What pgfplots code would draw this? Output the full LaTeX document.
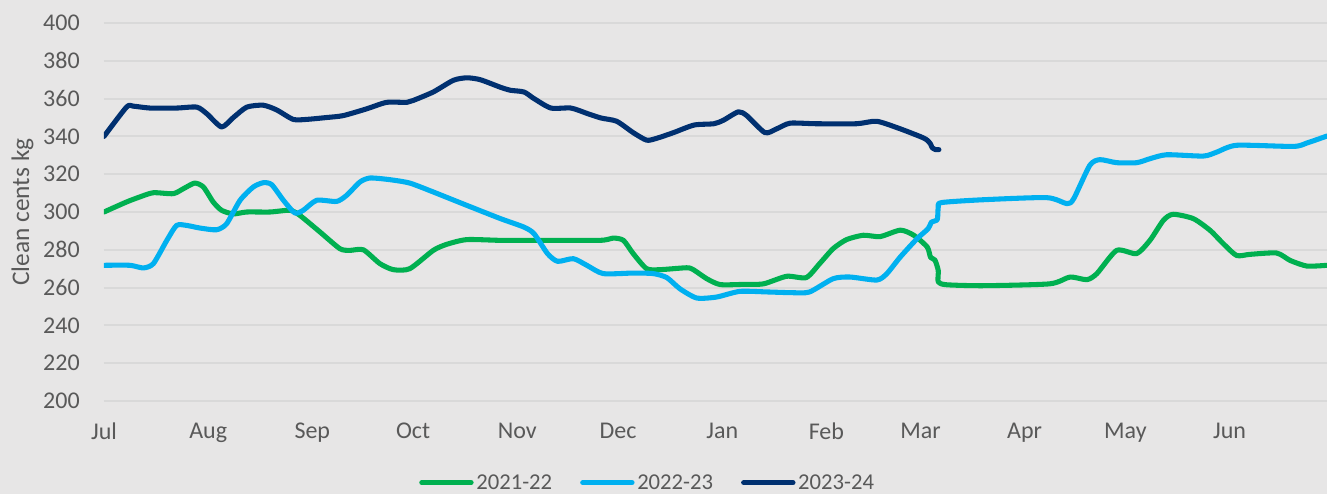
\documentclass[border=0pt]{standalone}
\usepackage{fontspec}
\setmainfont{Carlito}
\usepackage{pgfplots}
\usepackage{pgfplotstable}
\pgfplotsset{compat=1.18}
\definecolor{bgcol}{HTML}{E7E6E6}
\definecolor{gridcol}{HTML}{D9D9D9}
\definecolor{txtcol}{HTML}{595959}
\definecolor{cA}{HTML}{00B050}
\definecolor{cB}{HTML}{00B0F0}
\definecolor{cC}{HTML}{003070}

\pgfplotstableread{
d v
0 300
6.7 305.3
10.7 308
14.7 310.2
20.6 309.7
23.6 312.3
27 315.3
29.6 313.2
32.5 305.3
35 300.9
38.5 299
42.5 300
49.4 300
55.4 300.9
58.3 298.2
64.3 289.4
70.2 280.6
73.2 279.7
77.2 280
82.1 272.7
86.1 269.5
91 270
98 279.7
102 282.9
108 285.4
118 285
128 285
147.6 285
151.6 286.2
154.6 285
157.5 278
161.5 270
165.5 269.5
173.4 270.5
175.4 269.5
179.4 264.7
183.4 261.6
190.3 261.7
196.3 262
203.2 266
209 265.3
213 272.7
217 280.6
221 285.4
226 287.7
231 287
237 290.4
241 287.7
245 281.5
246 276
247.3 274.6
248.3 269
248.3 263
250.8 261.5
261.8 261
281.5 262
287.5 265.6
292.5 264.2
295.5 267.4
301.4 279.7
307.3 278
311.3 285
315.3 295.6
318.2 298.8
324.2 296.5
329.2 290.3
333.1 283.3
337.1 277
341.1 277.6
349 278.3
353 274.4
358 271.4
364 271.8
}\tblA

\pgfplotstableread{
d v
0 271.8
7.7 271.8
11.7 270.4
14.7 272.7
18.7 285
21.6 292.9
24.6 292.9
28.6 291.5
33.5 290.6
36.5 293.8
40.5 306.2
44.4 313.2
47.4 315.5
49.9 314.5
53.4 306.2
56.8 299.5
59.3 300.9
63.3 306.2
69.2 305.6
72.2 308.8
76.2 315.9
79.2 318
85.1 317.1
91 315.3
98 310.6
108 303.5
118 296.5
125 292
128 288.5
132 278
135 273.9
139.7 275.3
143.7 271.8
148.6 267.4
157.5 267.7
163.5 267.4
167.5 265.3
171.4 259.4
176.4 254.5
182.3 255
189.2 258
197.4 257.7
205 257.3
210 257.7
217 264.7
222 265.6
230 264
233 267.4
237 276.2
242 285.9
245.3 291.2
246.3 294.7
248 296
248.3 302.6
249.3 305
261.8 306.5
280.6 307.6
286.6 304.4
288.6 307
293.4 324.7
296.4 327.7
301.4 326.1
307.4 326.1
311.3 328.2
316.3 330.3
327.2 329.6
331.2 331.7
337.1 335.3
354 334.7
358 336.5
364 340.2
}\tblB

\pgfplotstableread{
d v
0 340
6.7 355.5
8.7 356
13.7 355
21.6 355
27.6 355.5
30.6 352
35 345
38.5 350
42.5 355.5
47.4 356.5
51.4 354
56.3 349
60.3 349
66.3 350
71.2 351
78.2 354.6
84.1 358
90.1 358
92 359
98 363.5
104 369.7
108 371
112 370
118 366
121 364.4
125 363.5
128 360
133 355
139 355
144 352
148 349.7
152.6 348
157.5 342
161.5 338
164.5 339
169.5 342
175.6 346
181.5 346.7
184.3 348.5
188.8 353
191.3 351
196.7 342
200.2 344
204.2 347
212 346.7
224 346.7
230 348
237 344
243.5 339.5
245 338
246 336
246.5 334
247.5 333
248.5 333
}\tblC

\begin{document}
\begin{tikzpicture}
\fill[bgcol] (0,0) rectangle (995.25pt,370.5pt);
\begin{axis}[
  at={(78pt,69.75pt)}, anchor=south west,
  scale only axis, width=917.25pt, height=283.5pt,
  xmin=0, xmax=364, ymin=200, ymax=400,
  axis line style={draw=none},
  major tick length=0pt,
  ytick={200,220,...,400},
  xtick={0,31,62,92,123,153,184,215,243,274,304,335},
  xticklabels={Jul,Aug,Sep,Oct,Nov,Dec,Jan,Feb,Mar,Apr,May,Jun},
  ymajorgrids, grid style={gridcol, line width=1.5pt},
  tick label style={font=\fontsize{18}{21}\selectfont, text=txtcol},
  /pgf/number format/assume math mode=true,
  yticklabel style={anchor=east, inner sep=0pt, xshift=-18pt},
  xticklabel style={anchor=north, inner sep=0pt, yshift=-16pt},
  ylabel={Clean cents kg},
  ylabel style={at={(axis description cs:-0.0666,0.5)}, anchor=center, rotate=0, font=\fontsize{19}{22}\selectfont, text=txtcol},
  legend columns=3,
  legend style={at={(0.4448,-0.2160)}, anchor=center, draw=none, fill=none,
    font=\fontsize{17}{20}\selectfont, text=txtcol, inner sep=0pt,
    /tikz/every odd column/.append style={column sep=0pt},
    /tikz/every even column/.append style={column sep=19pt}},
  legend image code/.code={\draw[#1, line cap=round] (0pt,0pt) -- (37pt,0pt);},
  every axis plot/.append style={line width=3.8pt, line join=round, line cap=round, smooth, tension=0.4},
]
\addplot[cA] table[x=d,y=v] {\tblA};
\addlegendentry{2021-22}
\addplot[cB] table[x=d,y=v] {\tblB};
\addlegendentry{2022-23}
\addplot[cC] table[x=d,y=v] {\tblC};
\addlegendentry{2023-24}
\end{axis}
\pgfresetboundingbox
\useasboundingbox (0,0) rectangle (995.25pt,370.5pt);
\end{tikzpicture}
\end{document}
